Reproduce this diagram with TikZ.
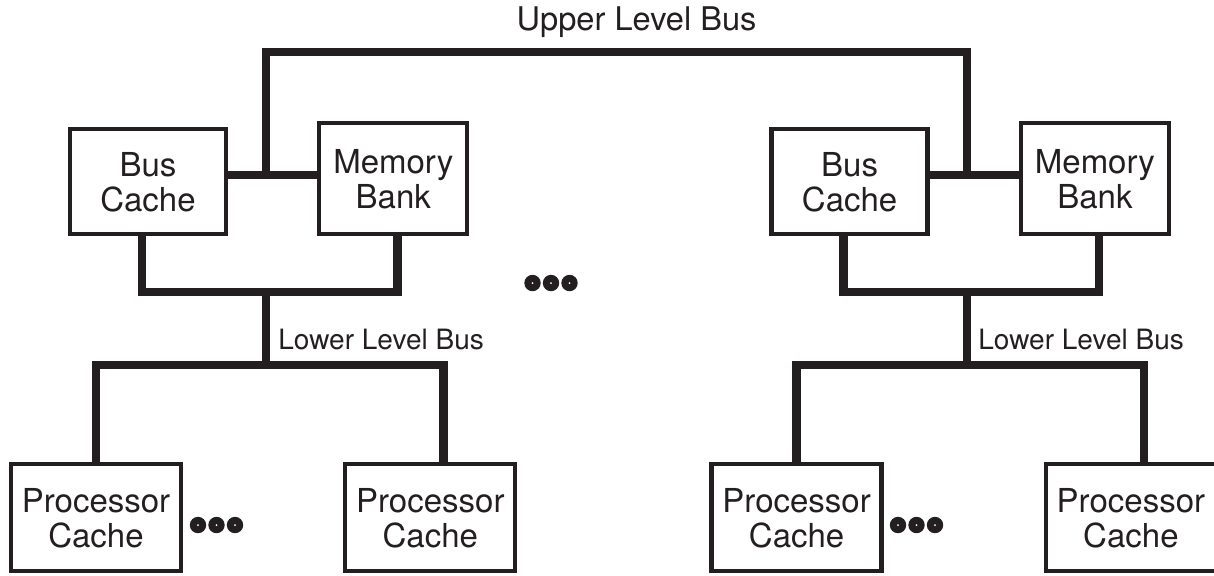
\documentclass[tikz,border=0pt]{standalone}
\usepackage{fontspec}
\setmainfont{TeX Gyre Heros}
\usetikzlibrary{positioning}
\definecolor{ink}{HTML}{231F20}

\begin{document}
\begin{tikzpicture}[
  x=0.5pt, y=-0.5pt,
  unit/.style={rectangle, draw=ink, line width=2.15pt, text=ink, align=center,
               inner sep=0pt, text depth=0pt, font=\fontsize{16.5}{17.5}\selectfont},
  bcbox/.style={unit, minimum width=78pt, minimum height=52.5pt},
  mbbox/.style={unit, minimum width=74pt, minimum height=55.5pt},
  pcbox/.style={unit, minimum width=85pt, minimum height=53.5pt},
  bus/.style={line width=4.25pt, draw=ink},
  buslabel/.style={text=ink, inner sep=0pt, font=\fontsize{14}{16}\selectfont},
  toplabel/.style={text=ink, inner sep=0pt, font=\fontsize{16.3}{18}\selectfont},
]
\useasboundingbox (0,0) rectangle (1214,575);

%% Left cluster
\node[bcbox] (bcL) at (148,181.5) {Bus\\Cache};
\node[mbbox, right=44.5pt of bcL.south east, anchor=south west] (mbL) {Memory\\Bank};
\node[pcbox] (pcLa) at (96,517.5) {Processor\\Cache};
\node[pcbox, right=80pt of pcLa] (pcLb) {Processor\\Cache};

%% Right cluster
\node[bcbox, right=150pt of mbL.south east, anchor=south west] (bcR) {Bus\\Cache};
\node[mbbox, right=44.5pt of bcR.south east, anchor=south west] (mbR) {Memory\\Bank};
\node[pcbox, right=96pt of pcLb] (pcRa) {Processor\\Cache};
\node[pcbox, right=80pt of pcRa] (pcRb) {Processor\\Cache};

%% Bus junctions
\coordinate (upL)   at (266,175);
\coordinate (upR)   at (967,175);
\coordinate (ubus)  at (616.5,52);
\coordinate (lowL)  at (266,292);
\coordinate (lowR)  at (967,292);
\coordinate (forkL) at (266,365);
\coordinate (forkR) at (967,365);

%% Upper level bus
\node[toplabel, anchor=base] (ulbl) at (636.5,30) {Upper Level Bus};
\draw[bus] (upL) |- (ubus) -| (upR);
\draw[bus] (bcL.east |- upL) -- (mbL.west |- upL);
\draw[bus] (bcR.east |- upR) -- (mbR.west |- upR);

%% Lower level buses
\draw[bus] ([xshift=-3pt]bcL.south) |- (lowL) -| ([xshift=2pt]mbL.south);
\draw[bus] ([xshift=-3pt]bcR.south) |- (lowR) -| ([xshift=2pt]mbR.south);
\draw[bus] (lowL) -- (forkL);
\draw[bus] (lowR) -- (forkR);
\draw[bus] (pcLa.north) |- (forkL) -| ([xshift=6.5pt]pcLb.north);
\draw[bus] (pcRa.north) |- (forkR) -| ([xshift=6.5pt]pcRb.north);
\node[buslabel, anchor=west] (lblL) at (278,339) {Lower Level Bus};
\node[buslabel, anchor=west] (lblR) at (978,339) {Lower Level Bus};

%% Ellipsis dots
\foreach \cx/\cy in {216.5/525, 551/283, 916.5/525}
  \foreach \k in {-1,0,1} {
    \fill[ink] (\cx+18.5*\k,\cy) circle[radius=4.1pt];
    \fill[white] (\cx+18.5*\k,\cy) circle[radius=0.5pt];
  }
\end{tikzpicture}
\end{document}
